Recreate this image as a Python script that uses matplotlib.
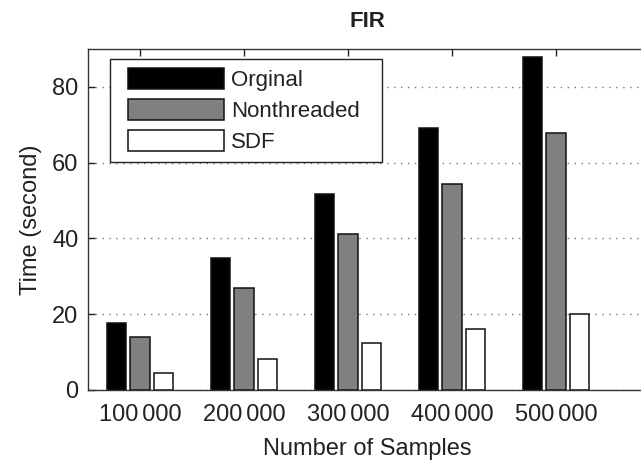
import matplotlib
matplotlib.use("Agg")
import matplotlib.pyplot as plt
from matplotlib.patches import Rectangle
import numpy as np

plt.rcParams['font.family'] = ['Liberation Sans', 'DejaVu Sans']

categories = ["100\u2006000", "200\u2006000", "300\u2006000", "400\u2006000", "500\u2006000"]
orginal = [17.6, 34.8, 51.8, 69.2, 87.8]
nonthreaded = [13.9, 26.9, 41.3, 54.5, 67.9]
sdf = [4.4, 8.1, 12.4, 16.1, 20.0]
series_names = ["Orginal", "Nonthreaded", "SDF"]
yticks = [0, 20, 40, 60, 80]

W, H = 641, 463
fig = plt.figure(figsize=(W / 100, H / 100), dpi=100)
left, right, top, bottom = 88, 647, 49, 390
aw, ah = right - left, bottom - top
ax = fig.add_axes([left / W, (H - bottom) / H, aw / W, ah / H])

x = np.arange(1, len(categories) + 1)
bw = 0.185
off = 0.228
colors = ['black', '#808080', 'white']
for k, (vals, c, name) in enumerate(zip([orginal, nonthreaded, sdf], colors, series_names)):
    ax.bar(x + (k - 1) * off, vals, width=bw, color=c, edgecolor='#111111',
           linewidth=1.1, label=name, zorder=3)

ax.set_xlim(0.5, 0.5 + aw / 104)
ax.set_ylim(0, 90)
ax.set_xticks(x)
ax.set_xticklabels(categories)
ax.set_yticks(yticks)
ax.yaxis.grid(True, linestyle=(0, (1, 4)), color='#777777', linewidth=1.0, zorder=0)
ax.set_axisbelow(True)
ax.tick_params(direction='in', length=5, width=1, labelsize=17, top=True, right=False,
               colors='#222222', labelcolor='#222222')
ax.tick_params(axis='x', pad=10)
ax.tick_params(axis='y', pad=7)
for s in ax.spines.values():
    s.set_color('#333333')
    s.set_linewidth(1.0)

ax.set_xlabel("Number of Samples", fontsize=17, labelpad=9, color='#222222')
ax.set_ylabel("Time (second)", fontsize=17, labelpad=7, color='#222222')
ax.set_title("FIR", fontsize=16, fontweight='bold', pad=16, color='#222222')

leg = ax.legend(loc='upper left', bbox_to_anchor=((128 - left) / aw, 1 - (68 - top) / ah),
                borderaxespad=0, fontsize=16, handlelength=4.3, handleheight=1.1,
                labelspacing=0.35, handletextpad=0.35, borderpad=0.0, frameon=False)
leg.set_zorder(6)
for t in leg.get_texts():
    t.set_color('#222222')

# legend frame with MATLAB-like asymmetric padding
fig.canvas.draw()
bb = leg.get_window_extent()
pl, pr, pt, pb = 18, 22, 9, 9
frame = Rectangle(((bb.x0 - pl) / W, (bb.y0 - pb) / H),
                  (bb.width + pl + pr) / W, (bb.height + pt + pb) / H,
                  transform=fig.transFigure, facecolor='white',
                  edgecolor='#222222', linewidth=1.0, zorder=5)
ax.add_patch(frame)

fig.savefig("out.png", dpi=100)
